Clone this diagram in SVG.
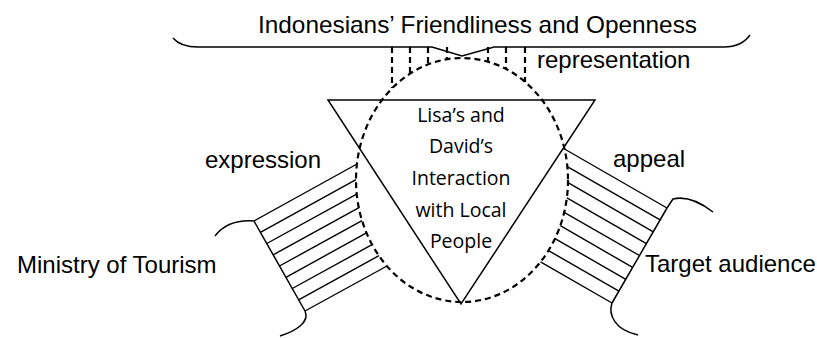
<svg xmlns="http://www.w3.org/2000/svg" width="817" height="338" viewBox="0 0 817 338">
<style>
.lbl{font-family:"Liberation Sans",Arial,sans-serif;font-size:24px;fill:#000}
.ctr{font-family:"Open Sans","Noto Sans",sans-serif;font-size:19.5px;fill:#000;text-anchor:middle}
.solid{fill:none;stroke:#000;stroke-width:1.5}
.hatch{fill:none;stroke:#000;stroke-width:1.4}
.dash{fill:none;stroke:#000;stroke-width:2.2;stroke-dasharray:6 4}
</style>
<rect width="817" height="338" fill="#fff"/>
<g id="object">
<path class="solid" d="M173,38 C178,44 186,47 198,47 L432,47 L462,56 L494,47 L724,47 C736,47 745,42 750,35"/>
<text class="lbl" x="258" y="33" font-size="24.3" textLength="439" lengthAdjust="spacingAndGlyphs">Indonesians’ Friendliness and Openness</text>
</g>
<g id="sign">
<polygon class="solid" points="328,100 595,100 461,304"/>
<ellipse class="dash" cx="462" cy="180" rx="106" ry="122" stroke-width="2.5" stroke-dasharray="7 4"/>
<text class="ctr" x="461" y="122">Lisa’s and</text>
<text class="ctr" x="461" y="153">David’s</text>
<text class="ctr" x="461" y="185">Interaction</text>
<text class="ctr" x="461" y="217">with Local</text>
<text class="ctr" x="461" y="248">People</text>
</g>
<g id="sender">
<path class="solid" d="M254,221 C240,220 225,223 215,236"/>
<path class="solid" d="M254,221 L305,311"/>
<path class="solid" d="M305,311 C310,322 296,331 280,336"/>
<text class="lbl" x="17" y="273">Ministry of Tourism</text>
</g>
<g id="receiver">
<path class="solid" d="M667,208 L673,199 C685,196 700,202 713,212"/>
<path class="solid" d="M667,208 L612,303"/>
<path class="solid" d="M612,303 C608,315 615,330 638,335"/>
<text class="lbl" x="645" y="272">Target audience</text>
</g>
<g id="connectors">
<g id="representation">
<path class="dash" d="M392,47 V88 M410,47 V73 M428,47 V64 M447,47 V59 M488,47 V62 M506,47 V69 M525,47 V82"/>
<text class="lbl" x="537" y="68">representation</text>
</g>
<g id="expression">
<path class="hatch" d="M254,221 L357,164 M260.4,232.3 L356,179.7 M266.8,243.5 L356.7,194.1 M273.1,254.8 L359,207.6 M279.5,266 L362,220.6 M285.9,277.3 L366.5,232.9 M292.3,288.5 L372,244.7 M298.6,299.8 L379,255.7 M305,311 L387,266"/>
<text class="lbl" x="205" y="168">expression</text>
</g>
<g id="appeal">
<path class="hatch" d="M564.5,149 L667,208 M567.3,166.6 L660.1,219.9 M568,182.7 L653.3,231.8 M566.9,197.9 L646.4,243.6 M564.2,212.4 L639.5,255.5 M560.3,225.7 L632.6,267.4 M555,238.6 L625.8,279.3 M548.5,250.6 L618.9,291.1 M540.5,261.9 L612,303"/>
<text class="lbl" x="613" y="167">appeal</text>
</g>
</g>
</svg>
